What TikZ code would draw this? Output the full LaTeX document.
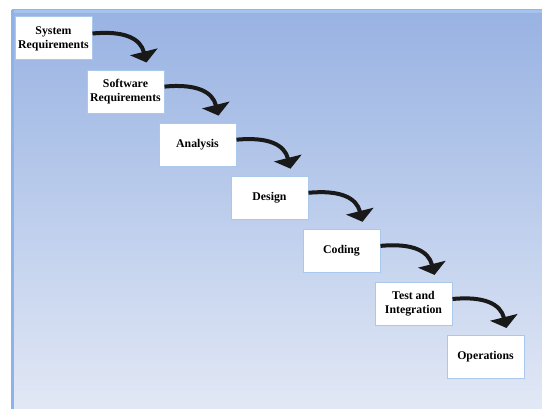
\documentclass[tikz,border=0pt]{standalone}
\usepackage{fontspec}
\setmainfont{Liberation Serif}
\usetikzlibrary{arrows.meta}
\definecolor{bgtop}{RGB}{152,178,226}
\definecolor{bgmid}{RGB}{188,205,236}
\definecolor{bgbot}{RGB}{226,232,245}
\definecolor{edgeblue}{RGB}{140,180,235}
\definecolor{topedge}{RGB}{165,195,238}
\definecolor{boxline}{RGB}{170,200,236}
\begin{document}
\begin{tikzpicture}[x=1pt,y=-1pt,
  stage/.style={draw=boxline,line width=1pt,fill=white,minimum width=77pt,minimum height=43pt,
    inner sep=0pt,align=center,font=\fontsize{11.8}{14}\selectfont\bfseries},
  flow/.style={line width=4pt,black!90,-{Triangle[width=28pt,length=11pt]}}]
\useasboundingbox (0,0) rectangle (542,409);
\fill[white] (0,0) rectangle (542,409);
\shade[top color=bgtop,bottom color=bgbot,middle color=bgmid] (12,10) rectangle (542,409);
\fill[topedge] (11,10) rectangle (542,13);
\fill[edgeblue] (11,10) rectangle (14,409);
\node[stage] (s1) at (53.5,38.5) {System\\Requirements};
\node[stage] (s2) at (125.5,91.6) {Software\\Requirements};
\node[stage] (s3) at (197.5,144.7) {Analysis};
\node[stage] (s4) at (269.5,197.8) {Design};
\node[stage] (s5) at (341.5,250.9) {Coding};
\node[stage] (s6) at (413.5,304) {Test and\\Integration};
\node[stage] (s7) at (485.5,357.1) {Operations};
\foreach \a in {1,...,6}{
  \path (s\a.east) ++(0,-5) coordinate (b\a);
  \path (s\a.east) ++(54,24) coordinate (t\a);
  \draw[flow] (b\a) .. controls +(32,-3) and +(-6,-24) .. (t\a);
}
\end{tikzpicture}
\end{document}
